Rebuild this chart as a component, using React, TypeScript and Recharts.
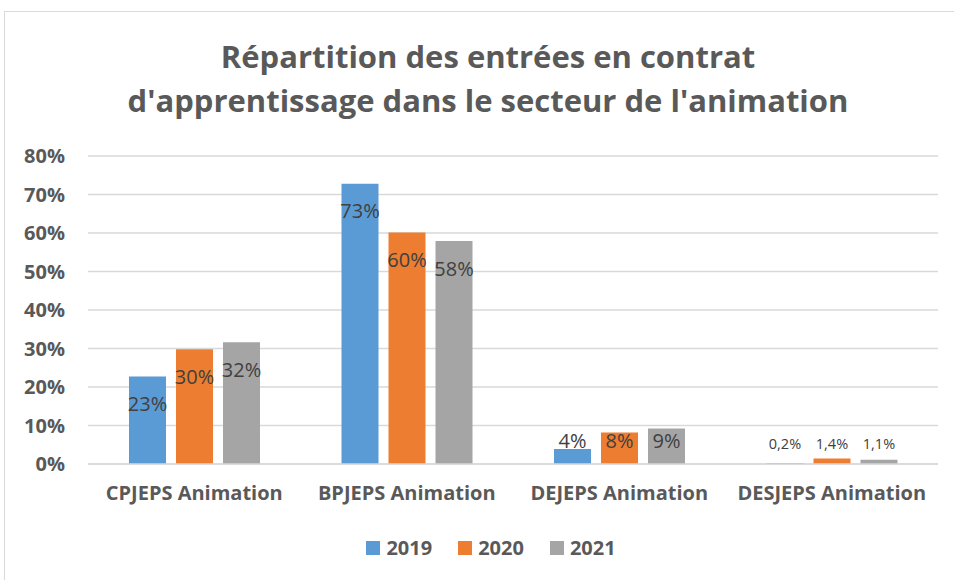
import { BarChart, Bar, XAxis, YAxis, CartesianGrid, LabelList } from 'recharts';

const categories = ['CPJEPS Animation', 'BPJEPS Animation', 'DEJEPS Animation', 'DESJEPS Animation'];
const values2019 = [22.7, 72.8, 3.9, 0.2];
const values2020 = [29.8, 60.1, 8.2, 1.4];
const values2021 = [31.6, 57.9, 9.2, 1.1];
const yTicks = [0, 10, 20, 30, 40, 50, 60, 70, 80];
const years = ['2019', '2020', '2021'];
const colors = ['#5B9BD5', '#ED7D31', '#A5A5A5'];

const data = categories.map((name, i) => ({
  name,
  y2019: values2019[i],
  y2020: values2020[i],
  y2021: values2021[i],
}));

const font = '"Open Sans", Lato, sans-serif';
const textGray = '#595959';

const fmt = (v: number) =>
  v < 2 ? `${v.toFixed(1).replace('.', ',')}%` : `${Math.round(v)}%`;

// excel "inside end" labels, pushed up when the bar is too short
const BarLabel = (props: any) => {
  const { x, y, width, height, value } = props;
  const small = value < 2;
  const cy = small ? y + height - 21 : Math.min(y + 27, y + height - 24);
  return (
    <text
      x={x + width / 2}
      y={cy}
      textAnchor="middle"
      dominantBaseline="central"
      fill="#404040"
      fontFamily={font}
      fontSize={small ? 14.5 : 20}
    >
      {fmt(value)}
    </text>
  );
};

export default function App() {
  return (
    <div style={{ position: 'absolute', left: 0, top: 0, width: 954, height: 580, overflow: 'hidden', background: '#fff' }}>
      <div
        style={{
          position: 'absolute', left: 4, top: 11, width: 1000, height: 600,
          border: '1px solid #d9d9d9', boxSizing: 'border-box',
        }}
      />
      <div
        style={{
          position: 'absolute', left: 0, top: 34, width: 976, textAlign: 'center',
          fontFamily: font, fontWeight: 700, fontSize: 31, lineHeight: '44px', color: textGray,
        }}
      >
        Répartition des entrées en contrat
        <br />
        d'apprentissage dans le secteur de l'animation
      </div>
      <div style={{ position: 'absolute', left: 0, top: 0 }}>
        <BarChart
          width={954}
          height={580}
          data={data}
          margin={{ top: 156, right: 16, bottom: 76, left: 8 }}
          barSize={37}
          barGap={10}
        >
          <CartesianGrid vertical={false} stroke="#d9d9d9" strokeWidth={1.5} />
          <XAxis
            dataKey="name"
            height={40}
            tickLine={false}
            tickSize={0}
            tickMargin={22}
            axisLine={{ stroke: '#d9d9d9', strokeWidth: 1.5 }}
            tick={{ fill: textGray, fontFamily: font, fontWeight: 700, fontSize: 20 }}
            interval={0}
          />
          <YAxis
            width={80}
            domain={[0, 80]}
            ticks={yTicks}
            tickFormatter={(v) => `${v}%`}
            tickLine={false}
            tickSize={0}
            tickMargin={23}
            axisLine={false}
            tick={{ fill: textGray, fontFamily: font, fontWeight: 700, fontSize: 20 }}
          />
          {['y2019', 'y2020', 'y2021'].map((k, i) => (
            <Bar key={k} dataKey={k} fill={colors[i]} isAnimationActive={false}>
              <LabelList dataKey={k} content={BarLabel} />
            </Bar>
          ))}
        </BarChart>
      </div>
      <div
        style={{
          position: 'absolute', left: 0, top: 534, width: 982, display: 'flex', justifyContent: 'center',
          fontFamily: font, fontWeight: 700, fontSize: 20, color: textGray,
        }}
      >
        {years.map((y, i) => (
          <div key={y} style={{ display: 'flex', alignItems: 'center', margin: '0 13px' }}>
            <span style={{ width: 14, height: 14, background: colors[i], marginRight: 6 }} />
            <span>{y}</span>
          </div>
        ))}
      </div>
    </div>
  );
}
